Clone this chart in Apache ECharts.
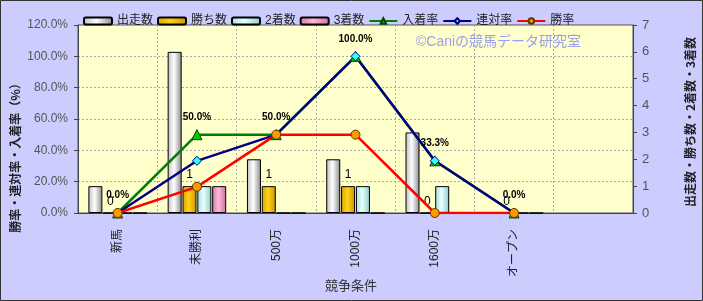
<!DOCTYPE html>
<html><head><meta charset="utf-8">
<script src="https://cdn.jsdelivr.net/npm/echarts@6/dist/echarts.min.js"></script>
<style>html,body{margin:0;padding:0;background:#ccccff;}#c{width:703px;height:301px;}</style>
</head><body><div id="c"></div>
<script>
const categories = ['新馬', '未勝利', '500万', '1000万', '1600万', 'オープン', ''];
const runs   = [1, 6, 2, 2, 3, 0];
const wins   = [0, 1, 1, 1, 0, 0];
const second = [0, 1, 0, 1, 1, 0];
const third  = [0, 1, 0, 0, 0, 0];
const placeRate = [0, 50.0, 50.0, 100.0, 33.3, 0];
const rentaiRate = [0, 33.3, 50.0, 100.0, 33.3, 0];
const winRate = [0, 16.7, 50.0, 50.0, 0, 0];
const leftTicks = [0, 20, 40, 60, 80, 100, 120];
const rightTicks = [0, 1, 2, 3, 4, 5, 6, 7];

const FONT = '"Liberation Sans", "Noto Sans CJK JP", sans-serif';
function grad(a, b, c) {
  return new echarts.graphic.LinearGradient(0, 0, 1, 0, [
    {offset: 0, color: a}, {offset: 0.45, color: b}, {offset: 1, color: c}]);
}
const chart = echarts.init(document.getElementById('c'), null, {renderer: 'canvas'});
const barBase = {type: 'bar', yAxisIndex: 1, barWidth: 14, barGap: '6%', barCategoryGap: '24%'};
chart.setOption({
  backgroundColor: '#ccccff',
  animation: false,
  textStyle: {fontFamily: FONT},
  legend: {
    top: 10, left: 78, itemWidth: 28, itemHeight: 7, itemGap: 4,
    textStyle: {fontSize: 12, color: '#222', fontFamily: FONT},
    data: ['出走数', '勝ち数', '2着数', '3着数', '入着率', '連対率', '勝率']
  },
  grid: {left: 78, right: 70, top: 25, bottom: 88, show: true, backgroundColor: '#ffffcc', borderColor: '#555', borderWidth: 1},
  xAxis: {
    type: 'category', data: categories,
    axisLine: {lineStyle: {color: '#444'}},
    axisTick: {show: false},
    splitLine: {show: true, lineStyle: {color: '#aaa', type: [2, 2]}},
    axisLabel: {rotate: 90, margin: 16, fontSize: 12, color: '#222', fontFamily: FONT, interval: 0}
  },
  yAxis: [{
    type: 'value', min: 0, max: 120, interval: 20,
    axisLine: {show: true, lineStyle: {color: '#444'}},
    axisTick: {show: true, length: 4, lineStyle: {color: '#444'}},
    splitLine: {show: true, lineStyle: {color: '#aaa', type: [2, 2]}},
    axisLabel: {formatter: v => v.toFixed(1) + '%', fontSize: 12, color: '#555', margin: 10, fontFamily: FONT}
  }, {
    type: 'value', min: 0, max: 7, interval: 1,
    axisLine: {show: true, lineStyle: {color: '#444'}},
    axisTick: {show: true, length: 4, lineStyle: {color: '#444'}},
    splitLine: {show: false},
    axisLabel: {fontSize: 13, color: '#555', margin: 9, fontFamily: FONT}
  }],
  graphic: [
    {type: 'text', left: 416, top: 35, z: 10, style: {text: '©Caniの競馬データ研究室', font: '14px "Liberation Sans","Noto Sans CJK JP"', fill: '#9aa0ee'}},
    {type: 'text', x: 15, y: 155, rotation: Math.PI / 2, z: 10, style: {text: '勝率・連対率・入着率（%）', font: 'bold 12px "Noto Sans CJK JP"', fill: '#222', align: 'center', verticalAlign: 'middle'}},
    {type: 'text', x: 690, y: 122, rotation: Math.PI / 2, z: 10, style: {text: '出走数・勝ち数・2着数・3着数', font: 'bold 12px "Noto Sans CJK JP"', fill: '#222', align: 'center', verticalAlign: 'middle'}},
    {type: 'text', x: 351, y: 285, z: 10, style: {text: '競争条件', font: '13px "Noto Sans CJK JP"', fill: '#333', align: 'center', verticalAlign: 'middle'}},
    {type: 'rect', shape: {x: 0.5, y: 0.5, width: 702, height: 300}, z: 20, silent: true, style: {fill: 'none', stroke: '#333', lineWidth: 1}}
  ],
  series: [
    Object.assign({}, barBase, {name: '出走数', data: runs,
      itemStyle: {color: grad('#bdbdbd', '#ffffff', '#8a8a8a'), borderColor: '#000', borderWidth: 1}}),
    Object.assign({}, barBase, {name: '勝ち数', data: wins,
      itemStyle: {color: grad('#d9a400', '#ffd21a', '#c99400'), borderColor: '#000', borderWidth: 1},
      label: {show: true, position: 'top', distance: 5, fontSize: 12, color: '#000', fontFamily: FONT}}),
    Object.assign({}, barBase, {name: '2着数', data: second,
      itemStyle: {color: grad('#a9dede', '#e6ffff', '#8fcaca'), borderColor: '#000', borderWidth: 1}}),
    Object.assign({}, barBase, {name: '3着数', data: third,
      itemStyle: {color: grad('#d77aa8', '#ffb8da', '#cf6f9f'), borderColor: '#000', borderWidth: 1}}),
    {type: 'line', name: '入着率', yAxisIndex: 0, data: placeRate,
      symbol: 'triangle', symbolSize: 10,
      lineStyle: {color: '#008000', width: 2.5}, itemStyle: {color: '#00cc00', borderColor: '#004400', borderWidth: 1},
      label: {show: true, position: 'top', distance: 7, fontSize: 10, fontWeight: 'bold', color: '#000', formatter: p => p.value.toFixed(1) + '%', fontFamily: FONT}},
    {type: 'line', name: '連対率', yAxisIndex: 0, data: rentaiRate,
      symbol: 'diamond', symbolSize: 9,
      lineStyle: {color: '#000080', width: 2.5}, itemStyle: {color: '#33ffff', borderColor: '#000080', borderWidth: 1}},
    {type: 'line', name: '勝率', yAxisIndex: 0, data: winRate,
      symbol: 'circle', symbolSize: 9,
      lineStyle: {color: '#ff0000', width: 2.5}, itemStyle: {color: '#ff9900', borderColor: '#663300', borderWidth: 1}}
  ]
});
</script></body></html>
